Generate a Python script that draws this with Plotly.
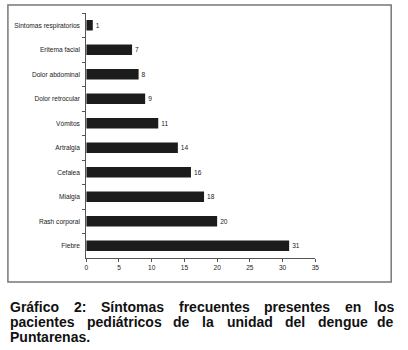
import plotly.graph_objects as go

categories = ["Sintomas respiratorios", "Eritema facial", "Dolor abdominal", "Dolor retrocular",
              "Vómitos", "Artralgia", "Cefalea", "Mialgia", "Rash corporal", "Fiebre"]
values = [1, 7, 8, 9, 11, 14, 16, 18, 20, 31]
x_ticks = [0, 5, 10, 15, 20, 25, 30, 35]

caption_lines = [
    ["Gráfico", "2:", "Síntomas", "frecuentes", "presentes", "en", "los"],
    ["pacientes", "pediátricos", "de", "la", "unidad", "del", "dengue", "de"],
    ["Puntarenas."],
]

W, H = 408, 350
small_font = dict(family="Liberation Sans, Arial", size=6.6, color="#222")

fig = go.Figure(go.Bar(
    x=values, y=categories, orientation="h",
    marker=dict(color="#1c1c1c", line=dict(width=0)),
    text=[str(v) for v in values], textposition="outside",
    textfont=small_font, cliponaxis=False,
))

fig.update_layout(
    width=W, height=H, margin=dict(l=0, r=0, t=0, b=0),
    paper_bgcolor="#ffffff", plot_bgcolor="rgba(0,0,0,0)",
    bargap=0.58, showlegend=False,
    xaxis=dict(domain=[85.5 / W, 318 / W], range=[0, 35], tickvals=x_ticks,
               showgrid=False, zeroline=False, showline=True, linecolor="#555", linewidth=1,
               ticks="outside", ticklen=3, tickcolor="#555", tickfont=small_font),
    yaxis=dict(domain=[1 - 258 / H, 1 - 13 / H], autorange="reversed",
               showgrid=False, zeroline=False, showline=True, linecolor="#555", linewidth=1,
               ticks="outside", ticklen=3, tickcolor="#555", tickson="boundaries",
               tickfont=small_font, ticklabelstandoff=4),
)

# border around the chart
fig.add_shape(type="rect", xref="paper", yref="paper",
              x0=6 / W, x1=395 / W, y0=1 - 282 / H, y1=1 - 5 / H,
              line=dict(color="#777", width=1.5), fillcolor="rgba(0,0,0,0)", layer="below")

# justified caption: word left positions (px); last word of full lines right-aligned
word_x = [
    [7, 71.7, 99.8, 178.5, 265.0, 346.8, 399],
    [7, 84.8, 172.7, 202.2, 227.1, 286.2, 319.6, 399],
    [7],
]
line_y = [306.5, 321.5, 336.5]
cap_font = dict(family="Liberation Sans, Arial", size=14, color="#111")
for li, (words, xs, yc) in enumerate(zip(caption_lines, word_x, line_y)):
    for wi, (w, xp) in enumerate(zip(words, xs)):
        last = (wi == len(words) - 1) and li < 2
        fig.add_annotation(text="<b>" + w + "</b>", xref="paper", yref="paper",
                           x=xp / W, y=1 - yc / H, xanchor="right" if last else "left",
                           yanchor="middle", borderpad=0,
                           showarrow=False, font=cap_font)

fig.write_html("out.html", config={"displayModeBar": False},
               post_script="document.body.style.margin='0';document.body.style.overflow='hidden';")
